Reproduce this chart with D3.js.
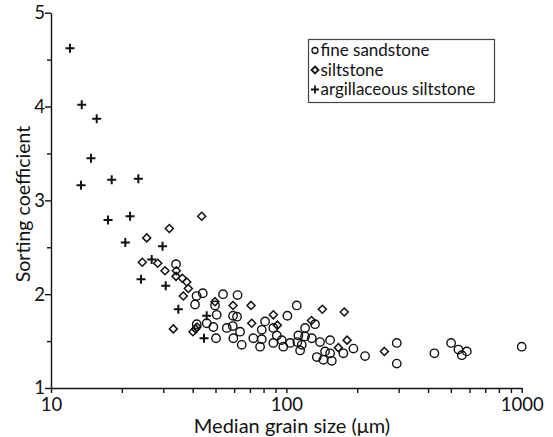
<!DOCTYPE html>
<html>
<head>
<meta charset="utf-8">
<script src="https://cdn.jsdelivr.net/npm/d3@7/dist/d3.min.js"></script>
<style>
  html, body { margin: 0; padding: 0; background: #fff; }
  svg { display: block; font-family: Lato, "Open Sans", sans-serif; }
</style>
</head>
<body>
<svg id="chart" width="553" height="437"></svg>
<script>
// Median grain size (µm) and sorting coefficient for each lithology
const fineSandstone = [
  [33.98, 2.32], [41.53, 1.98], [44.13, 2.01], [40.93, 1.89], [53.83, 2.00],
  [62.03, 1.99], [49.77, 1.88], [50.60, 1.78], [59.36, 1.77], [61.73, 1.76],
  [101.0, 1.77], [110.7, 1.88], [132.4, 1.68], [120.1, 1.64], [41.61, 1.68],
  [45.88, 1.69], [48.96, 1.65], [55.81, 1.64], [59.19, 1.66], [81.21, 1.71],
  [88.06, 1.64], [78.62, 1.62], [63.58, 1.60], [50.26, 1.53], [59.54, 1.53],
  [72.40, 1.53], [78.62, 1.52], [91.05, 1.56], [95.61, 1.51], [103.7, 1.48],
  [111.4, 1.49], [64.63, 1.46], [77.34, 1.44], [88.06, 1.48], [97.10, 1.44],
  [112.5, 1.56], [120.1, 1.55], [128.2, 1.53], [139.0, 1.49], [153.4, 1.51],
  [116.3, 1.46], [114.4, 1.40], [134.7, 1.33], [146.0, 1.39], [153.4, 1.37],
  [143.6, 1.30], [156.0, 1.29], [174.7, 1.37], [192.7, 1.42], [216.0, 1.34],
  [294.5, 1.48], [294.5, 1.26], [425.6, 1.37], [501.2, 1.48], [538.3, 1.41],
  [584.6, 1.39], [556.5, 1.35], [1000, 1.44]
];
const siltstone = [
  [43.70, 2.83], [31.82, 2.70], [25.51, 2.60], [24.43, 2.34], [28.41, 2.33],
  [30.51, 2.25], [34.08, 2.25], [33.98, 2.19], [36.14, 2.17], [37.73, 2.13],
  [38.32, 2.06], [36.49, 1.98], [33.09, 1.63], [40.13, 1.60], [41.12, 1.63],
  [41.73, 1.65], [49.77, 1.92], [59.36, 1.88], [70.79, 1.88], [71.27, 1.69],
  [88.06, 1.78], [91.58, 1.67], [127.9, 1.72], [142.2, 1.84], [176.2, 1.81],
  [166.3, 1.43], [181.1, 1.51], [260.9, 1.39]
];
const argillaceousSiltstone = [
  [12.04, 4.62], [13.51, 4.02], [15.64, 3.87], [14.79, 3.45], [13.41, 3.16],
  [18.11, 3.22], [23.50, 3.23], [17.47, 2.79], [21.67, 2.83], [20.69, 2.55],
  [29.78, 2.51], [26.78, 2.37], [24.13, 2.16], [30.72, 2.09], [34.75, 1.84],
  [45.88, 1.77], [44.68, 1.53]
];
const xTickValues = [10, 100, 1000];
const yTickValues = [1, 2, 3, 4, 5];
const legendLabels = ["fine sandstone", "siltstone", "argillaceous siltstone"];

const svg = d3.select("#chart");
const x = d3.scaleLog().domain([10, 1000]).range([51, 521.7]);
const y = d3.scaleLinear().domain([1, 5]).range([388, 12.7]);

const ink = "#111";

// minor ticks: 20..90 in each decade, half-steps on y
const xMinor = [];
for (const d of [10, 100]) for (let k = 2; k <= 9; k++) xMinor.push(d * k);
const yMinor = [1.5, 2.5, 3.5, 4.5];

const xAxisG = svg.append("g").attr("transform", "translate(0,388)");
xAxisG.call(d3.axisBottom(x).tickValues(xMinor).tickSize(5).tickFormat(""))
  .call(g => g.select(".domain").remove());
xAxisG.append("g")
  .call(d3.axisBottom(x).tickValues(xTickValues).tickSize(5).tickSizeOuter(0)
    .tickFormat(d3.format("d")).tickPadding(4.5));
xAxisG.selectAll("line, path").attr("stroke", ink).attr("stroke-width", 1.4);
xAxisG.selectAll("text").attr("fill", ink).attr("font-size", 18.5)
  .attr("font-family", "Lato, sans-serif");

const yAxisG = svg.append("g").attr("transform", "translate(51,0)");
yAxisG.call(d3.axisLeft(y).tickValues(yMinor).tickSize(4).tickFormat(""))
  .call(g => g.select(".domain").remove());
yAxisG.append("g")
  .call(d3.axisLeft(y).tickValues(yTickValues).tickSize(6).tickSizeOuter(0)
    .tickFormat(d3.format("d")).tickPadding(0));
yAxisG.selectAll("line, path").attr("stroke", ink).attr("stroke-width", 1.4);
yAxisG.selectAll("text").attr("fill", ink).attr("font-size", 18.5)
  .attr("font-family", "Lato, sans-serif");

// axis titles
svg.append("text")
  .attr("x", 292).attr("y", 432.5)
  .attr("text-anchor", "middle")
  .attr("font-size", 20).attr("fill", ink)
  .text("Median grain size (μm)");
svg.append("text")
  .attr("transform", "translate(30,204) rotate(-90)")
  .attr("text-anchor", "middle")
  .attr("font-size", 19.5).attr("fill", ink)
  .text("Sorting coefficient");

// marker shapes
const circleR = 4.2;
const diamond = r => `M0,${-r}L${r},0L0,${r}L${-r},0Z`;
const plus = r => `M${-r},0H${r}M0,${-r}V${r}`;

const marks = svg.append("g");
marks.selectAll("circle.fs").data(fineSandstone).join("circle")
  .attr("class", "fs")
  .attr("cx", d => x(d[0])).attr("cy", d => y(d[1])).attr("r", circleR)
  .attr("fill", "none").attr("stroke", ink).attr("stroke-width", 1.4);
marks.selectAll("path.si").data(siltstone).join("path")
  .attr("class", "si")
  .attr("transform", d => `translate(${x(d[0])},${y(d[1])})`)
  .attr("d", diamond(4))
  .attr("fill", "none").attr("stroke", ink).attr("stroke-width", 1.5);
marks.selectAll("path.ar").data(argillaceousSiltstone).join("path")
  .attr("class", "ar")
  .attr("transform", d => `translate(${x(d[0])},${y(d[1])})`)
  .attr("d", plus(4.5))
  .attr("fill", "none").attr("stroke", ink).attr("stroke-width", 2);

// legend
const lg = svg.append("g");
lg.append("rect").attr("x", 308.5).attr("y", 39.5).attr("width", 186).attr("height", 63)
  .attr("fill", "#fff").attr("stroke", "#444").attr("stroke-width", 1.2);
const rows = [56, 75.5, 95];
legendLabels.forEach((label, i) => {
  const cy = rows[i] - 5.5;
  if (i === 0) {
    lg.append("circle").attr("cx", 315).attr("cy", cy).attr("r", 3)
      .attr("fill", "none").attr("stroke", ink).attr("stroke-width", 1.3);
  } else if (i === 1) {
    lg.append("path").attr("transform", `translate(315,${cy})`).attr("d", diamond(3.5))
      .attr("fill", "none").attr("stroke", ink).attr("stroke-width", 1.8);
  } else {
    lg.append("path").attr("transform", `translate(315,${cy})`).attr("d", plus(4))
      .attr("fill", "none").attr("stroke", ink).attr("stroke-width", 1.8);
  }
  lg.append("text").attr("x", 320.5).attr("y", rows[i])
    .attr("font-size", 17).attr("fill", ink).text(label);
});
</script>
</body>
</html>
